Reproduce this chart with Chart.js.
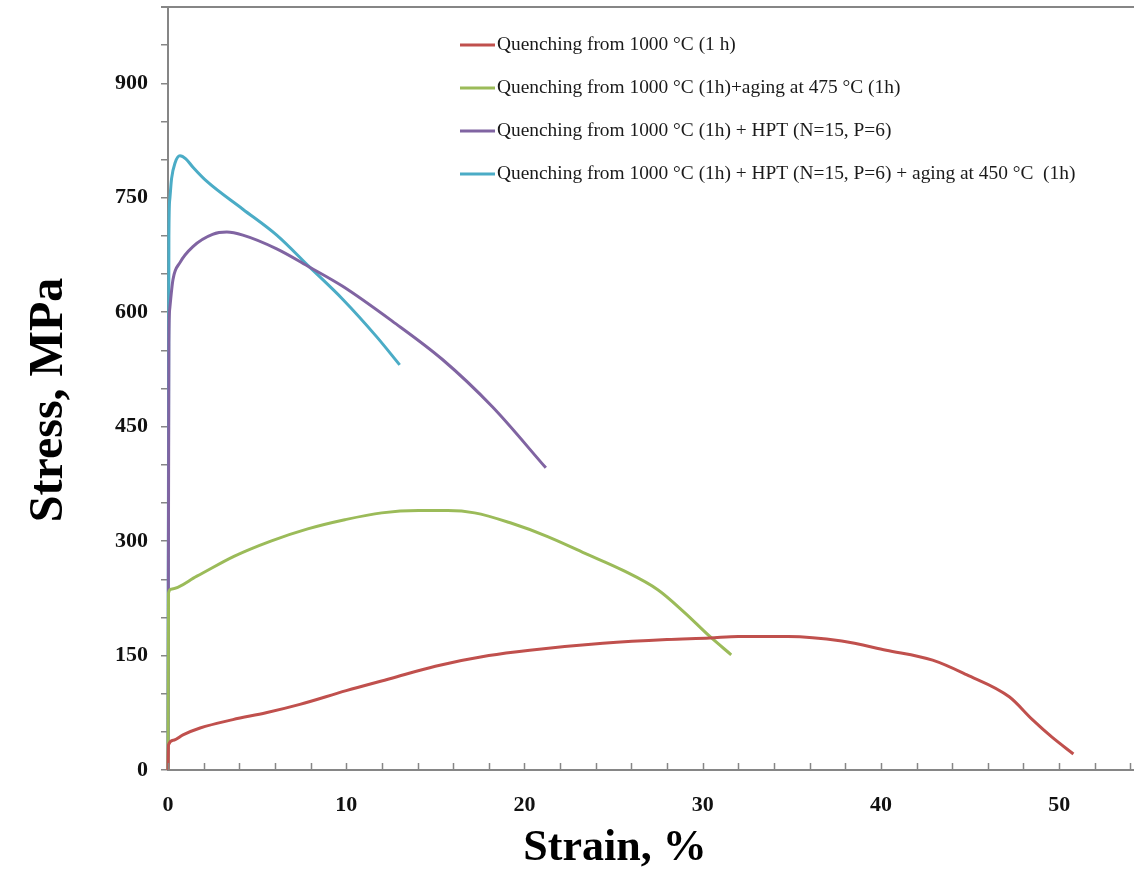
<!DOCTYPE html>
<html>
<head>
<meta charset="utf-8">
<script src="https://cdn.jsdelivr.net/npm/chart.js@4.4.1/dist/chart.umd.min.js"></script>
<style>
  html, body { margin: 0; padding: 0; background: #ffffff; }
  #wrap { width: 1134px; height: 870px; }
</style>
</head>
<body>
<div id="wrap"><canvas id="c" width="1134" height="870"></canvas></div>
<script>
// Tensile curves: strain (%) vs engineering stress (MPa)
const seriesLabels = [
  'Quenching from 1000 \u00B0C (1 h)',
  'Quenching from 1000 \u00B0C (1h)+aging at 475 \u00B0C (1h)',
  'Quenching from 1000 \u00B0C (1h) + HPT (N=15, P=6)',
  'Quenching from 1000 \u00B0C (1h) + HPT (N=15, P=6) + aging at 450 \u00B0C  (1h)'
];
const seriesColors = ['#C0504D', '#9BBB59', '#8064A2', '#4BACC6'];

const strainQ = [0, 0.03, 0.3, 0.84, 1.8, 3.64, 5.5, 7.4, 10, 12.5, 15, 18, 20.3, 24.4, 28, 30.4, 32, 34.8, 37.8, 40.3, 42.9, 44.8, 47.2, 48.5, 49.6, 50.8];
const stressQ = [0, 33, 39, 46, 55, 66, 75, 86, 104, 120, 136, 150, 157, 166, 171, 173, 175, 175, 169, 157, 144, 125, 96, 66, 43, 21];

const strainQA = [0, 0.03, 0.17, 1.62, 3.7, 5.77, 7.84, 9.92, 11.99, 14.06, 15.7, 17.2, 19.2, 21.3, 23.4, 25.5, 27.5, 29.0, 30.4, 31.6];
const stressQA = [0, 232, 237, 254, 280, 300, 316, 328, 337, 340, 340, 337, 324, 306, 284, 262, 236, 206, 175, 151];

const strainHPT = [0, 0.05, 0.1, 0.28, 0.67, 1.4, 2.5, 3.3, 4.2, 6.1, 7.95, 9.8, 12.6, 15.4, 18.2, 21.2];
const stressHPT = [0, 560, 605, 643, 665, 686, 702, 705, 701, 683, 659, 634, 588, 538, 476, 396];

const strainHPTA = [0, 0.05, 0.1, 0.2, 0.4, 0.67, 1.0, 1.4, 2.2, 4.2, 6.1, 7.95, 9.8, 11.7, 13.0];
const stressHPTA = [0, 700, 748, 775, 796, 805, 801, 790, 771, 735, 701, 659, 617, 568, 531];

const xTickValues = [0, 2, 4, 6, 8, 10, 12, 14, 16, 18, 20, 22, 24, 26, 28, 30, 32, 34, 36, 38, 40, 42, 44, 46, 48, 50, 52, 54];
const yTickValues = [0, 50, 100, 150, 200, 250, 300, 350, 400, 450, 500, 550, 600, 650, 700, 750, 800, 850, 900, 950, 1000];
const xLabelStep = 10;
const yLabelStep = 150;

const axisGray = '#868686';
const serif = '"Liberation Serif", "Times New Roman", serif';

function pairs(xs, ys) {
  return xs.map((x, i) => ({ x: x, y: ys[i] }));
}

const curves = [
  pairs(strainQ, stressQ),
  pairs(strainQA, stressQA),
  pairs(strainHPT, stressHPT),
  pairs(strainHPTA, stressHPTA)
];

const datasets = curves.map((pts, i) => ({
  label: seriesLabels[i],
  data: pts,
  borderColor: seriesColors[i],
  backgroundColor: seriesColors[i],
  borderWidth: 3,
  pointRadius: 0,
  fill: false,
  cubicInterpolationMode: 'monotone',
  clip: 6
}));

// Inward x ticks, top frame line, axis titles and the legend block
const decorations = {
  id: 'decorations',
  afterDraw(chart) {
    const { ctx, chartArea, scales } = chart;
    const xs = scales.x;
    ctx.save();
    ctx.strokeStyle = axisGray;
    ctx.lineWidth = 1.5;
    xTickValues.forEach(v => {
      const px = Math.round(xs.getPixelForValue(v)) + 0.5;
      ctx.beginPath();
      ctx.moveTo(px, chartArea.bottom);
      ctx.lineTo(px, chartArea.bottom - 7);
      ctx.stroke();
    });
    ctx.lineWidth = 2;
    ctx.beginPath();
    ctx.moveTo(chartArea.left - 7, chartArea.top);
    ctx.lineTo(chartArea.right, chartArea.top);
    ctx.stroke();

    ctx.fillStyle = '#000';
    ctx.textAlign = 'center';
    ctx.textBaseline = 'alphabetic';
    ctx.font = 'bold 44px ' + serif;
    ctx.fillText('Strain, %', 615, 860);
    ctx.save();
    ctx.translate(62, 400);
    ctx.rotate(-Math.PI / 2);
    ctx.font = 'bold 48px ' + serif;
    ctx.fillText('Stress, MPa', 0, 0);
    ctx.restore();

    ctx.font = '19.4px ' + serif;
    ctx.textAlign = 'left';
    ctx.textBaseline = 'middle';
    chart.data.datasets.forEach((ds, i) => {
      const y = 45 + 43 * i;
      ctx.strokeStyle = ds.borderColor;
      ctx.lineWidth = 3;
      ctx.beginPath();
      ctx.moveTo(460, y);
      ctx.lineTo(495, y);
      ctx.stroke();
      ctx.fillStyle = '#1a1a1a';
      ctx.fillText(ds.label, 497, y);
    });
    ctx.restore();
  }
};

new Chart(document.getElementById('c'), {
  type: 'line',
  data: { datasets: datasets },
  options: {
    responsive: false,
    animation: false,
    devicePixelRatio: 1,
    layout: { padding: { top: 7, right: 0, left: 0, bottom: 0 } },
    plugins: { legend: { display: false }, tooltip: { enabled: false } },
    scales: {
      x: {
        type: 'linear',
        min: 0,
        max: 54.2,
        afterBuildTicks: s => { s.ticks = xTickValues.map(v => ({ value: v })); },
        afterFit: s => { s.height = 100; s.paddingLeft = 0; s.paddingRight = 0; },
        border: { display: true, color: axisGray, width: 2 },
        grid: { display: true, drawOnChartArea: false, drawTicks: false },
        ticks: {
          autoSkip: false,
          maxRotation: 0,
          padding: 22,
          color: '#111',
          font: { family: serif, size: 22, weight: 'bold' },
          callback: v => (v % xLabelStep === 0 ? String(v) : '')
        }
      },
      y: {
        type: 'linear',
        min: 0,
        max: 1000,
        afterBuildTicks: s => { s.ticks = yTickValues.map(v => ({ value: v })); },
        afterFit: s => { s.width = 168; s.paddingTop = 0; s.paddingBottom = 0; },
        border: { display: true, color: axisGray, width: 2 },
        grid: { display: true, drawOnChartArea: false, drawTicks: true, tickLength: 7, color: axisGray, lineWidth: 1.5 },
        ticks: {
          autoSkip: false,
          padding: 13,
          color: '#111',
          font: { family: serif, size: 22, weight: 'bold' },
          callback: v => (v % yLabelStep === 0 ? String(v) : '')
        }
      }
    }
  },
  plugins: [decorations]
});
</script>
</body>
</html>
